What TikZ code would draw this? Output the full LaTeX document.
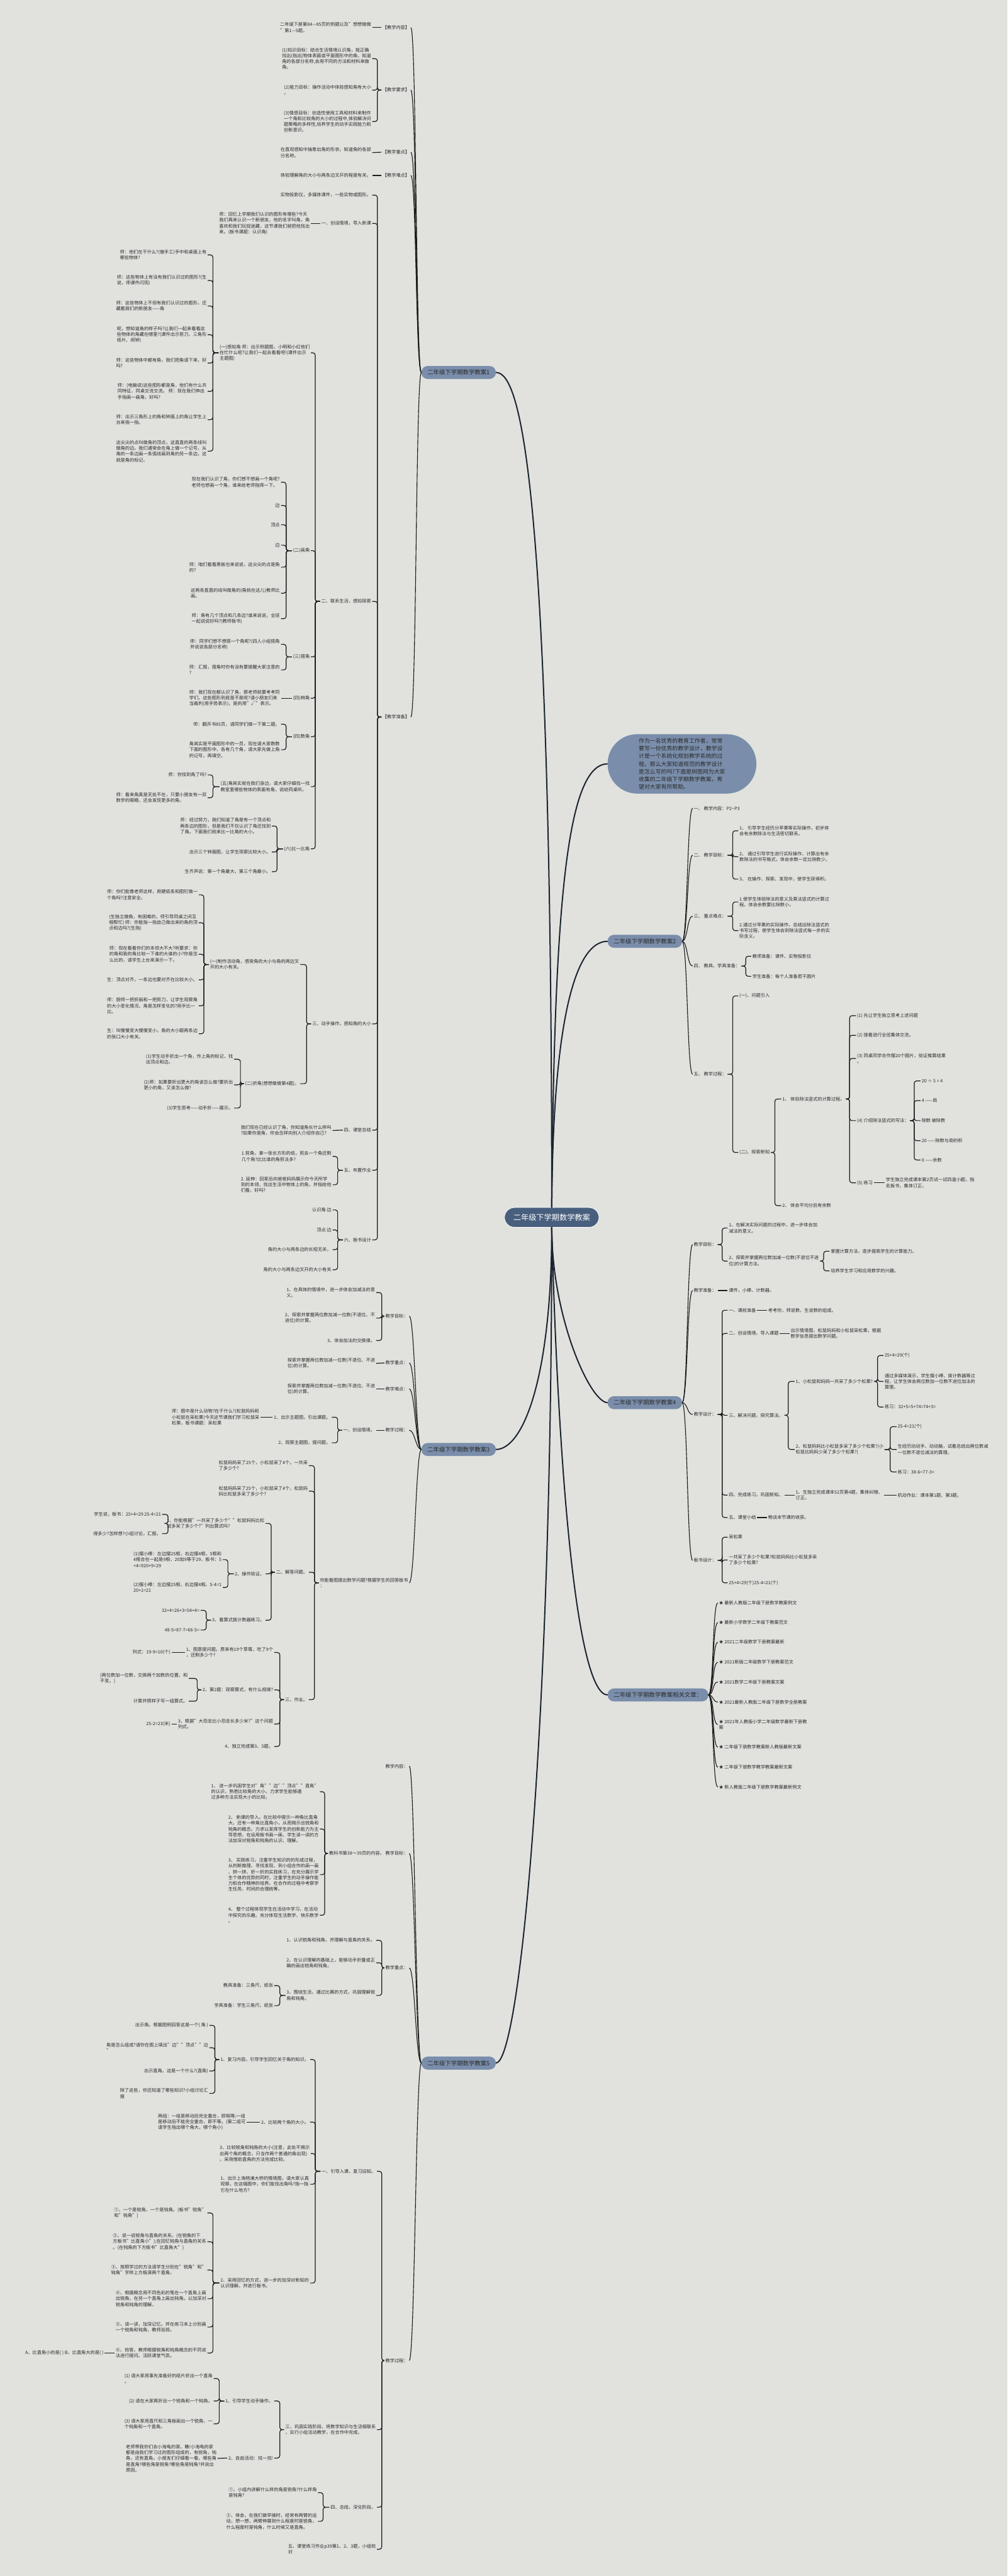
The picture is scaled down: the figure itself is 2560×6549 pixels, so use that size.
\documentclass[tikz,border=0pt]{standalone}
\usepackage{fontspec}
\setmainfont{Noto Sans CJK SC}
\definecolor{bg}{HTML}{E1E2DE}
\definecolor{rootfill}{HTML}{485F7E}
\definecolor{onefill}{HTML}{7A8EAB}
\definecolor{txt}{HTML}{2A2A2A}
\definecolor{ln}{HTML}{1C1C1C}
\definecolor{rootln}{HTML}{1B2430}
\newcommand\txtfont{\fontsize{5.75pt}{7.4pt}\selectfont}
\newcommand\onefont{\fontsize{7.5pt}{9pt}\selectfont}
\newcommand\rootfont{\fontsize{9.75pt}{11pt}\selectfont}
\newcommand\introfont{\fontsize{7.1pt}{9.8pt}\selectfont}
\newcommand\brL[3]{\foreach \ch in {#3}{\draw[br] (#1.west) -- (#2,0 |- #1.west) -- (#2,0 |- \ch.east) -- (\ch.east);}}
\newcommand\brR[3]{\foreach \ch in {#3}{\draw[br] (#1.east) -- (#2,0 |- #1.east) -- (#2,0 |- \ch.west) -- (\ch.west);}}
\newcommand\cvL[2]{\foreach \ch in {#2}{\draw[cv] (#1.west) .. controls +(-14,0) and +(14,0) .. (\ch.east);}}
\newcommand\cvR[2]{\foreach \ch in {#2}{\draw[cv] (#1.east) .. controls +(14,0) and +(-14,0) .. (\ch.west);}}
\newcommand\stL[2]{\draw[br] (#1.west) -- (#2.east);}
\newcommand\stR[2]{\draw[br] (#1.east) -- (#2.west);}
\begin{document}
\begin{tikzpicture}[x=0.5pt,y=-0.5pt,
  every node/.style={inner sep=0pt, outer sep=0pt},
  tx/.style={font=\txtfont, text=txt, align=left, inner xsep=1.5pt, inner ysep=1pt},
  L/.style={tx, anchor=east},
  R/.style={tx, anchor=west},
  br/.style={draw=ln, line width=0.95pt, rounded corners=3pt},
  cv/.style={draw=ln, line width=0.9pt},
  rc/.style={draw=rootln, line width=1.6pt},
  lone/.style={fill=onefill, rounded corners=8pt, minimum height=16.5pt, inner xsep=7.75pt, font=\onefont, text=txt},
  rootnode/.style={fill=rootfill, draw=white, line width=0.6pt, rounded corners=12.5pt, minimum height=25pt, minimum width=120pt, inner xsep=11pt, font=\rootfont, text=white},
  intro/.style={fill=onefill, rounded corners=37.5pt, minimum width=189pt, minimum height=75.5pt, font=\introfont, text=txt, align=left}
]
\path[use as bounding box, fill=bg] (0,0) rectangle (2560,6549);
% ---------- root and level 1 ----------
\node[rootnode] (root) at (1402,3095) {二年级下学期数学教案};
\node[lone, anchor=east] (A) at (1260,947) {二年级下学期数学教案1};
\node[intro] (I) at (1733,1942) {作为一名优秀的教育工作者，常常\\要写一份优秀的教学设计，教学设\\计是一个系统化规划教学系统的过\\程。那么大家知道规范的教学设计\\是怎么写的吗?下面是树图网为大家\\收集的二年级下学期数学教案，希\\望对大家有所帮助。};
\node[lone, anchor=west] (B) at (1544,2393) {二年级下学期数学教案2};
\node[lone, anchor=east] (C) at (1260,3685) {二年级下学期数学教案3};
\node[lone, anchor=west] (D) at (1544,3566) {二年级下学期数学教案4};
\node[lone, anchor=west] (E) at (1544,4309) {二年级下学期数学教案相关文章：};
\node[lone, anchor=east] (F) at (1260,5245) {二年级下学期数学教案5};
\draw[rc] (root.north) .. controls (1402,1100) and (1310,947) .. (A.east);
\draw[rc] (root.north) .. controls (1408,2300) and (1440,1942) .. (I.west);
\draw[rc] (root.north) .. controls (1405,2600) and (1460,2393) .. (B.west);
\draw[rc] (root.south) .. controls (1402,3500) and (1330,3685) .. (C.east);
\draw[rc] (root.south) .. controls (1402,3350) and (1500,3566) .. (D.west);
\draw[rc] (root.south) .. controls (1420,3800) and (1470,4309) .. (E.west);
\draw[rc] (root.south) .. controls (1402,4400) and (1320,5245) .. (F.east);
% ---------- 教案1 ----------
\node[L] (A1) at (1044,70) {【教学内容】};
\node[L] (A2) at (1044,229) {【教学要求】};
\node[L] (A3) at (1044,387) {【教学重点】};
\node[L] (A4) at (1044,446) {【教学难点】};
\node[L] (A5) at (1044,1823) {【教学准备】};
\cvL{A}{A1,A2,A3,A4,A5}
\node[L] (A1a) at (946,70) {二年级下册第84—85页的例题以及"想想做做\\"第1—5题。};
\stL{A1}{A1a}
\node[L] (A2a) at (946,149) {(1)知识目标：结合生活情境认识角，能正确\\找出(指出)物体表面或平面图形中的角，知道\\角的各部分名称,会用不同的方法和材料来做\\角。};
\node[L] (A2b) at (946,229) {(2)能力目标：操作活动中体验感知角有大小\\。};
\node[L] (A2c) at (946,309) {(3)情感目标：创造性使用工具和材料来制作\\一个角和比较角的大小的过程中,体验解决问\\题策略的多样性,培养学生的动手实践能力和\\创新意识。};
\brL{A2}{959}{A2a,A2b,A2c}
\node[L] (A3a) at (946,388) {在直观感知中抽象出角的形状，知道角的各部\\分名称。};
\stL{A3}{A3a}
\node[L] (A4a) at (946,446) {体验理解角的大小与两条边叉开的程度有关。};
\stL{A4}{A4a}
\node[L] (P1) at (946,496) {实物投影仪，多媒体课件，一些实物或图形。};
\node[L] (P2) at (946,568) {一、创设情境，导入新课};
\node[L] (P3) at (946,1529) {二、联系生活，感知探索};
\node[L] (P4) at (946,2603) {三、动手操作，感知角的大小};
\node[L] (P5) at (946,2873) {四、课堂总结};
\node[L] (P6) at (946,2975) {五、布置作业};
\node[L] (P7) at (946,3152) {六、板书设计};
\brL{A5}{959}{P1,P2,P3,P4,P5,P6,P7}
\node[L] (P2a) at (790,568) {师：回忆上学期我们认识的图形有哪些?今天\\我们再来认识一个新朋友，他的名字叫角，角\\喜欢和我们玩捉迷藏，这节课我们就把他找出\\来。(板书课题：认识角)};
\stL{P2}{P2a}
\node[L] (Q1) at (790,897) {(一)感知角 师：出示例题图，小明和小红他们\\在忙什么呢?让我们一起去看看吧!(课件出示\\主题图)};
\node[L] (Q2) at (790,1400) {(二)画角};
\node[L] (Q3) at (790,1670) {(三)搭角};
\node[L] (Q4) at (790,1775) {(四)辨角};
\node[L] (Q5) at (790,1873) {(四)数角};
\node[L] (Q6) at (790,2000) {(五)角其实就在我们身边，请大家仔细找一找\\教室里哪些物体的表面有角，说给同桌听。};
\node[L] (Q7) at (790,2158) {(六)比一比角};
\brL{P3}{801}{Q1,Q2,Q3,Q4,Q5,Q6,Q7}
\node[L] (Q1a) at (528,648) {师：他们在干什么?(做手工)手中和桌面上有\\哪些物体?};
\node[L] (Q1b) at (528,713) {师：这些物体上有没有我们认识过的图形?(生\\说，师课件闪现)};
\node[L] (Q1c) at (528,778) {师：这些物体上不但有我们认识过的图形，还\\藏着我们的新朋友——角};
\node[L] (Q1d) at (528,851) {呢，想知道角的样子吗?让我们一起来看看这\\些物体的角藏在哪里?(课件出示剪刀、三角形\\纸片、闹钟)};
\node[L] (Q1e) at (528,923) {师：这些物体中都有角，我们把角请下来，好\\吗?};
\node[L] (Q1f) at (528,995) {师：(电脑说)这些图形都是角，他们有什么共\\同特征，同桌交流交流。 师：现在我们伸出\\手指画一画角，好吗?};
\node[L] (Q1g) at (528,1067) {师：出示三角形上的角和钟面上的角让学生上\\台来指一指。};
\node[L] (Q1h) at (528,1147) {这尖尖的点叫做角的顶点，这直直的两条线叫\\做角的边。我们通常会在角上做一个记号，从\\角的一条边画一条弧线画到角的另一条边，这\\就是角的标记。};
\brL{Q1}{541}{Q1a,Q1b,Q1c,Q1d,Q1e,Q1f,Q1g,Q1h}
\node[L] (Q2a) at (714,1226) {现在我们认识了角，你们想不想画一个角呢?\\老师也想画一个角，谁来给老师指挥一下。};
\node[L] (Q2b) at (714,1285) {边};
\node[L] (Q2c) at (714,1334) {顶点};
\node[L] (Q2d) at (714,1386) {边};
\node[L] (Q2e) at (714,1442) {师：咱们看看黑板也来说说，这尖尖的点是角\\的?};
\node[L] (Q2f) at (714,1508) {这两条直直的线叫做角的(角就在这儿)教师比\\画。};
\node[L] (Q2g) at (714,1573) {师：角有几个顶点和几条边?谁来说说，全班\\一起说说好吗?(教师板书)};
\brL{Q2}{727}{Q2a,Q2b,Q2c,Q2d,Q2e,Q2f,Q2g}
\node[L] (Q3a) at (714,1638) {师：同学们想不想搭一个角呢?(四人小组搭角\\并说说各部分名称)};
\node[L] (Q3b) at (714,1703) {师：汇报，搭角时你有没有要提醒大家注意的\\?};
\brL{Q3}{727}{Q3a,Q3b}
\node[L] (Q4a) at (714,1775) {师：我们现在都认识了角，那老师就要考考同\\学们，这些图形到底是不是呢?请小朋友们来\\当裁判(用手势表示)，是的用"√"表示。};
\stL{Q4}{Q4a}
\node[L] (Q5a) at (714,1841) {师：翻开书85页，请同学们做一下第二题。};
\node[L] (Q5b) at (714,1906) {角其实是平面图形中的一员，现在请大家数数\\下面的图形中，各有几个角，请大家先做上角\\的记号，再填空。};
\brL{Q5}{727}{Q5a,Q5b}
\node[L] (Q6a) at (528,1970) {师：你找到角了吗?};
\node[L] (Q6b) at (528,2028) {师：看来角真是无处不在，只要小朋友有一双\\数学的眼睛，还会发现更多的角。};
\brL{Q6}{541}{Q6a,Q6b}
\node[L] (Q7a) at (691,2100) {师：经过努力，我们知道了角是有一个顶点和\\两条边的图形，但是我们不仅认识了角还找到\\了角。下面我们就来比一比角的大小。};
\node[L] (Q7b) at (691,2166) {出示三个钟面图，让学生观察比较大小。};
\node[L] (Q7c) at (691,2216) {生齐声说：第一个角最大，第三个角最小。};
\brL{Q7}{704}{Q7a,Q7b,Q7c}
\node[L] (R1) at (763,2452) {(一)制作活动角，感受角的大小与角的两边叉\\开的大小有关。};
\node[L] (R2) at (763,2755) {(二)折角(想想做做第4题)。};
\brL{P4}{779}{R1,R2}
\node[L] (R1a) at (505,2275) {师：你们能像老师这样，用硬纸条和图钉做一\\个角吗?注意安全。};
\node[L] (R1b) at (505,2346) {(生独立做角，有困难的，师引导同桌之间互\\相帮忙) 师：你能指一指自己做出来的角的顶\\点和边吗?(生指)};
\node[L] (R1c) at (505,2426) {师：现在看看你们的本领大不大?听要求：你\\的角和我的角比较一下谁的大谁的小?你是怎\\么比的，请学生上台来演示一下。};
\node[L] (R1d) at (505,2491) {生：顶点对齐，一条边也要对齐在比较大小。};
\node[L] (R1e) at (505,2557) {师：厨师一把折扇和一把剪刀，让学生观察角\\的大小变化情况，角是怎样变化的?用手比一\\比。};
\node[L] (R1f) at (505,2628) {生：叫慢慢变大慢慢变小，角的大小跟两条边\\的张口大小有关。};
\brL{R1}{518}{R1a,R1b,R1c,R1d,R1e,R1f}
\node[L] (R2a) at (595,2693) {(1)学生动手折出一个角，作上角的标记，找\\出顶点和边。};
\node[L] (R2b) at (595,2758) {(2)师：如果要折出更大的角该怎么做?要折出\\更小的角，又该怎么做?};
\node[L] (R2c) at (595,2817) {(3)学生思考——动手折——展示。};
\brL{R2}{611}{R2a,R2b,R2c}
\node[L] (P5a) at (845,2874) {我们现在已经认识了角，你知道角长什么样吗\\?如果你是角，你会怎样向别人介绍你自己?};
\stL{P5}{P5a}
\node[L] (P6a) at (845,2940) {1.剪角，拿一张长方形的纸，剪去一个角还剩\\几个角?比比谁的角剪法多?};
\node[L] (P6b) at (845,3012) {2. 延伸：回家后向爸爸妈妈展示你今天所学\\到的本领，找出生活中物体上的角，并指给他\\们看，好吗?};
\brL{P6}{858}{P6a,P6b}
\node[L] (P7a) at (845,3076) {认识角 边};
\node[L] (P7b) at (845,3127) {顶点 边};
\node[L] (P7c) at (845,3177) {角的大小与两条边的长短无关，};
\node[L] (P7d) at (845,3228) {角的大小与两条边叉开的大小有关};
\brL{P7}{858}{P7a,P7b,P7c,P7d}
% ---------- 教案3 ----------
\node[L] (C1) at (1040,3346) {教学目标：};
\node[L] (C2) at (1040,3465) {教学重点：};
\node[L] (C3) at (1040,3531) {教学难点：};
\node[L] (C4) at (1040,3636) {教学过程：};
\node[L] (C5) at (1040,4024) {你能看图提出数学问题?根据学生的回答板书\\：};
\cvL{C}{C1,C2,C3,C4,C5}
\node[L] (C1a) at (956,3286) {1、在具体的情境中，进一步体会加减法的意\\义。};
\node[L] (C1b) at (956,3351) {2、探索并掌握两位数加减一位数(不退位、不\\进位)的计算。};
\node[L] (C1c) at (956,3408) {3、体会加法的交换律。};
\brL{C1}{970}{C1a,C1b,C1c}
\node[L] (C2a) at (956,3466) {探索并掌握两位数加减一位数(不退位、不进\\位)的计算。};
\stL{C2}{C2a}
\node[L] (C3a) at (956,3531) {探索并掌握两位数加减一位数(不退位、不进\\位)的计算。};
\stL{C3}{C3a}
\node[L] (C4a) at (956,3636) {一、创设情境。};
\stL{C4}{C4a}
\node[L] (C4b) at (843,3603) {1、出示主题图，引出课题。};
\node[L] (C4c) at (843,3668) {2、观察主题图，提问题。};
\brL{C4a}{858}{C4b,C4c}
\node[L] (C4d) at (662,3603) {师：图中是什么动物?在干什么?(松鼠妈妈和\\小松鼠在采松果)今天这节课我们学习松鼠采\\松果，板书课题：采松果};
\stL{C4b}{C4d}
\node[L] (S1) at (785,3726) {松鼠妈妈采了25个，小松鼠采了4个。一共采\\了多少个?};
\node[L] (S2) at (785,3791) {松鼠妈妈采了25个，小松鼠采了4个。松鼠妈\\妈比松鼠多采了多少个?};
\node[L] (S3) at (785,3997) {二、解答问题。};
\node[L] (S4) at (785,4321) {三、作业。};
\brL{C5}{799}{S1,S2,S3,S4}
\node[L] (S3a) at (675,3873) {1、你能根据"一共采了多少个""松鼠妈妈比松\\鼠多采了多少个?"列出算式吗?};
\node[L] (S3b) at (675,4001) {2、操作验证。};
\node[L] (S3c) at (675,4119) {3、看算式拨计数器练习。};
\brL{S3}{689}{S3a,S3b,S3c}
\node[L] (S3a1) at (412,3850) {学生说，板书：25+4=29 25-4=21};
\node[L] (S3a2) at (412,3899) {得多少?怎样想?小组讨论，汇报。};
\brL{S3a}{427}{S3a1,S3a2}
\node[L] (S3b1) at (566,3965) {(1)摆小棒：左边摆25根，右边摆4根，5根和\\4根合在一起是9根，20加9等于29，板书：5\\+4=920+9=29};
\node[L] (S3b2) at (566,4036) {(2)摆小棒：左边摆25根，右边摆4根。5-4=1\\20+1=21};
\brL{S3b}{579}{S3b1,S3b2}
\node[L] (S3c1) at (510,4094) {32+4=26+3=54+4=};
\node[L] (S3c2) at (510,4144) {48-5=87-7=66-5=};
\brL{S3c}{524}{S3c1,S3c2}
\node[L] (S4a) at (697,4201) {1、图意提问题。原来有19个草莓，吃了9个\\，还剩多少个?};
\node[L] (S4b) at (697,4296) {2、第2题：观察算式，有什么规律?};
\node[L] (S4c) at (697,4383) {3、根据"大恐龙比小恐龙长多少米?"这个问题\\列式。};
\node[L] (S4d) at (697,4440) {4、独立完成第3、5题。};
\brL{S4}{711}{S4a,S4b,S4c,S4d}
\node[L] (S4a1) at (436,4201) {列式：19-9=10(个)};
\stL{S4a}{S4a1}
\node[L] (S4b1) at (480,4267) {(两位数加一位数，交换两个加数的位置，和\\不变。)};
\node[L] (S4b2) at (480,4325) {计算并照样子写一组算式。};
\brL{S4b}{501}{S4b1,S4b2}
\node[L] (S4c1) at (436,4383) {25-2=23(米)};
\stL{S4c}{S4c1}
% ---------- 教案5 ----------
\node[L] (F1) at (1040,4490) {教学内容：};
\node[L] (F2) at (1040,4712) {教科书第38～39页的内容。 教学目标：};
\node[L] (F3) at (1040,5003) {教学重点：};
\node[L] (F4) at (1040,6001) {教学过程：};
\cvL{F}{F1,F2,F3,F4}
\node[L] (F2a) at (813,4555) {1、 进一步巩固学生对"角""边""顶点""直角"\\的认识，熟悉比较角的大小。力求学生能够通\\过多种方法实现大小的比较。};
\node[L] (F2b) at (813,4650) {2、 新课的导入。在比较中提示一种角比直角\\大，还有一种角比直角小，从而揭示出锐角和\\钝角的概念。力求以发挥学生的创新能力为主\\导思想。在运用板书画一画，学生读一读的方\\法加深对锐角和钝角的认识、理解。};
\node[L] (F2c) at (813,4766) {3、 实践练习，注重学生知识的的形成过程，\\从判断推理、寻找发现、到小组合作的画一画\\、拼一拼、折一折的实践练习，在充分展示学\\生个体的优势的同时，注重学生的动手操作能\\力和合作精神的培养。在合作的过程中考察学\\生任务、时间的合理统筹。};
\node[L] (F2d) at (813,4869) {4、 整个过程体现学生在活动中学习，在活动\\中探究的乐趣。充分体现生活数学、快乐数学\\。};
\brL{F2}{825}{F2a,F2b,F2c,F2d}
\node[L] (F3a) at (956,4933) {1、认识锐角和钝角，并理解与直角的关系。};
\node[L] (F3b) at (956,4990) {2、在认识理解的基础上，能够动手折叠或正\\确的画出锐角和钝角。};
\node[L] (F3c) at (956,5073) {3、围绕生活，通过比赛的方式，巩固理解锐\\角和钝角。};
\brL{F3}{970}{F3a,F3b,F3c}
\node[L] (F3c1) at (697,5048) {教具准备：三角尺，纸张};
\node[L] (F3c2) at (697,5099) {学具准备：学生三角尺，纸张};
\brL{F3c}{711}{F3c1,F3c2}
\node[L] (G1) at (958,5520) {一、引导入课，复习旧知。};
\node[L] (G2) at (958,6177) {三、巩固实践阶段，将数学知识与生活相联系\\，实行小组活动教学，在合作中完成。};
\node[L] (G3) at (958,6374) {四、总结，深化阶段。};
\node[L] (G4) at (958,6481) {五、课堂练习作业p39第1、2、3题，小组校\\对};
\brL{F4}{970}{G1,G2,G3,G4}
\node[L] (G1a) at (788,5236) {1、复习内容。引导学生回忆关于角的知识。};
\node[L] (G1b) at (788,5395) {2、比较两个角的大小。};
\node[L] (G1c) at (790,5475) {3、比较锐角和钝角的大小(注意，此处不揭示\\出两个角的概念，只当作两个普通的角出现)\\。采用借助直角的方法完成比较。};
\node[L] (G1d) at (788,5553) {1、出示上海杨浦大桥的情境图，请大家认真\\观察，在这幅图中，你们能找出角吗?指一指\\它在什么地方?};
\node[L] (G1e) at (788,5804) {2、采用回忆的方式，进一步的加深对新知的\\认识理解。并进行板书。};
\brL{G1}{801}{G1a,G1b,G1c,G1d,G1e}
\node[L] (G1a1) at (532,5149) {出示角。根据图例回答这是一个( 角 )};
\node[L] (G1a2) at (532,5206) {角是怎么组成?请你在图上填出"边""顶点""边\\"};
\node[L] (G1a3) at (532,5265) {出示直角。这是一个什么?(直角)};
\node[L] (G1a4) at (532,5322) {除了这些，你还知道了哪些知识?小组讨论汇\\报};
\brL{G1a}{546}{G1a1,G1a2,G1a3,G1a4}
\node[L] (G1b1) at (627,5395) {两组：一组是移动后完全重合，即相等;一组\\是移动后不能完全重合，即不等。(第二组可\\请学生指出哪个角大，哪个角小)};
\stL{G1b}{G1b1}
\node[L] (G1e1) at (527,5626) {①、一个是锐角，一个是钝角。(板书"锐角"\\和"钝角")};
\node[L] (G1e2) at (527,5699) {②、说一说锐角与直角的关系。(在锐角的下\\方板书"比直角小");在回忆钝角与直角的关系\\。(在钝角的下方板书"比直角大")};
\node[L] (G1e3) at (527,5771) {③、按照学过的方法请学生分别在"锐角"和"\\钝角"字样上方板演两个直角。};
\node[L] (G1e4) at (527,5844) {④、根据概念用不同色彩的笔在一个直角上画\\出锐角，在另一个直角上画出钝角。以加深对\\锐角和钝角的理解。};
\node[L] (G1e5) at (527,5916) {⑤、读一读，加深记忆。并在练习本上分别画\\一个锐角和钝角，教师巡视。};
\node[L] (G1e6) at (527,5982) {⑥、抢答。教师根据锐角和钝角概念的不同说\\法进行提问。活跃课堂气氛。};
\brL{G1e}{541}{G1e1,G1e2,G1e3,G1e4,G1e5,G1e6}
\node[L] (G1e7) at (266,5982) {A、比直角小的是( ) B、比直角大的是( )};
\stL{G1e6}{G1e7}
\node[L] (G2a) at (697,6104) {1、引导学生动手操作。};
\node[L] (G2b) at (697,6249) {2、自由活动：找一找!};
\brL{G2}{711}{G2a,G2b}
\node[L] (G2a1) at (543,6047) {(1) 请大家用事先准备好的纸片折出一个直角\\。};
\node[L] (G2a2) at (543,6104) {(2) 请在大家再折出一个锐角和一个钝角。};
\node[L] (G2a3) at (543,6162) {(3) 请大家用直尺和三角板画出一个锐角、一\\个钝角和一个直角。};
\brL{G2a}{557}{G2a1,G2a2,G2a3}
\node[L] (G2b1) at (553,6250) {老师带我你们去小海龟的家。瞧!小海龟的家\\都是由我们学习过的图形组成的，有锐角，钝\\角，还有直角。小朋友们仔细看一看，哪些角\\是直角?哪些角是锐角?哪些角是钝角?并说出\\原因。};
\stL{G2b}{G2b1}
\node[L] (G3a) at (808,6337) {①、小组内讲解什么样的角是锐角?什么样角\\是钝角?};
\node[L] (G3b) at (808,6410) {②、体会，在我们做早操时，经常有两臂的运\\动，想一想，两臂伸展到什么程度时是锐角，\\什么程度时是钝角，什么时候又是直角。};
\brL{G3}{821}{G3a,G3b}
% ---------- 教案2 ----------
\node[R] (B1) at (1760,2055) {一、 教学内容：P2\textasciitilde P3};
\node[R] (B2) at (1760,2174) {二、 教学目标：};
\node[R] (B3) at (1760,2329) {三、 重点难点：};
\node[R] (B4) at (1760,2456) {四、 教具、学具准备：};
\node[R] (B5) at (1760,2731) {五、 教学过程：};
\cvR{B}{B1,B2,B3,B4,B5}
\node[R] (B2a) at (1876,2112) {1、 引导学生经历分苹果等实际操作，初步体\\会有余数除法与生活密切联系。};
\node[R] (B2b) at (1876,2178) {2、 通过引导学生进行实际操作，计算出有余\\数除法的书写格式，体会余数一定比除数少。};
\node[R] (B2c) at (1876,2235) {3、 在操作、探索、发现中，使学生获得积。};
\brR{B2}{1862}{B2a,B2b,B2c}
\node[R] (B3a) at (1876,2293) {1.使学生体验除法的意义及乘法竖式的计算过\\程。体会余数要比除数小。};
\node[R] (B3b) at (1876,2366) {2.通过分苹果的实际操作，总结出除法竖式的\\书写过程，使学生体会到除法竖式每一步的实\\际含义。};
\brR{B3}{1862}{B3a,B3b}
\node[R] (B4a) at (1909,2431) {教师准备：课件、实物投影仪};
\node[R] (B4b) at (1909,2482) {学生准备：每个人准备若干圆片};
\brR{B4}{1895}{B4a,B4b}
\node[R] (B5a) at (1876,2532) {(一)、问题引入};
\node[R] (B5b) at (1876,2930) {(二)、探索新知};
\brR{B5}{1862}{B5a,B5b}
\node[R] (B5c) at (1985,2794) {1、 体验除法竖式的计算过程。};
\node[R] (B5d) at (1985,3065) {2、 体会平均分后有余数};
\brR{B5b}{1969}{B5c,B5d}
\node[R] (T1) at (2175,2582) {(1) 先让学生独立思考上述问题};
\node[R] (T2) at (2175,2632) {(2) 接着进行全班集体交流。};
\node[R] (T3) at (2175,2691) {(3) 同桌同学合作摆20个圆片，验证推算结果\\。};
\node[R] (T4) at (2175,2849) {(4) 介绍除法竖式的写法：};
\node[R] (T5) at (2175,3007) {(5) 练习};
\brR{B5c}{2159}{T1,T2,T3,T4,T5}
\node[R] (T4a) at (2339,2748) {20 ÷ 5 = 4};
\node[R] (T4b) at (2339,2798) {4 ——商};
\node[R] (T4c) at (2339,2849) {除数 被除数};
\node[R] (T4d) at (2339,2900) {20 ——除数与商的积};
\node[R] (T4e) at (2339,2949) {0 ——余数};
\brR{T4}{2323}{T4a,T4b,T4c,T4d,T4e}
\node[R] (T5a) at (2248,3007) {学生独立完成课本第2页试一试四道小题，指\\名板书，集体订正。};
\stR{T5}{T5a}
% ---------- 教案4 ----------
\node[R] (D1) at (1760,3164) {教学目标：};
\node[R] (D2) at (1760,3281) {教学准备：};
\node[R] (D3) at (1760,3596) {教学设计：};
\node[R] (D4) at (1760,3967) {板书设计：};
\cvR{D}{D1,D2,D3,D4}
\node[R] (D1a) at (1849,3122) {1、在解决实际问题的过程中，进一步体会加\\减法的意义。};
\node[R] (D1b) at (1849,3206) {2、探索并掌握两位数加减一位数(不退位不进\\位)的计算方法。};
\brR{D1}{1835}{D1a,D1b}
\node[R] (D1b1) at (2108,3181) {掌握计算方法，逐步提高学生的计算能力。};
\node[R] (D1b2) at (2108,3231) {培养学生学习和应用数学的兴趣。};
\brR{D1b}{2093}{D1b1,D1b2}
\node[R] (D2a) at (1849,3281) {课件，小棒、计数器。};
\stR{D2}{D2a}
\node[R] (U1) at (1849,3331) {一、课前准备};
\node[R] (U2) at (1849,3390) {二、创设情境，导入课题};
\node[R] (U3) at (1849,3598) {三、解决问题，探究算法。};
\node[R] (U4) at (1849,3801) {四、完成练习，巩固新知。};
\node[R] (U5) at (1849,3858) {五、课堂小结};
\brR{D3}{1835}{U1,U2,U3,U4,U5}
\node[R] (U1a) at (1949,3331) {考考你，师说数，生说数的组成。};
\stR{U1}{U1a}
\node[R] (U2a) at (2006,3390) {出示情境图，松鼠妈妈和小松鼠采松果，根据\\数学信息提出数学问题。};
\stR{U2}{U2a}
\node[R] (U3a) at (2019,3512) {1、小松鼠和妈妈一共采了多少个松果?};
\node[R] (U3b) at (2019,3685) {2、松鼠妈妈比小松鼠多采了多少个松果?(小\\松鼠比妈妈少采了多少个松果?)};
\brR{U3}{2003}{U3a,U3b}
\node[R] (U3a1) at (2245,3446) {25+4=29(个)};
\node[R] (U3a2) at (2245,3512) {通过多媒体演示，学生摆小棒、拨计数器等过\\程，让学生体会两位数加一位数不进位加法的\\算理。};
\node[R] (U3a3) at (2245,3577) {练习：32+5=5+74=74+3=};
\brR{U3a}{2230}{U3a1,U3a2,U3a3}
\node[R] (U3b1) at (2278,3627) {25-4=21(个)};
\node[R] (U3b2) at (2278,3685) {生经历动动手、动动脑，试着总结出两位数减\\一位数不退位减法的算理。};
\node[R] (U3b3) at (2278,3742) {练习：38-6=77-3=};
\brR{U3b}{2262}{U3b1,U3b2,U3b3}
\node[R] (U4a) at (2019,3801) {1、生独立完成课本52页第4题，集体纠错、\\订正。};
\stR{U4}{U4a}
\node[R] (U4b) at (2278,3801) {机动作业：课本第1题、第3题。};
\stR{U4a}{U4b}
\node[R] (U5a) at (1949,3858) {畅谈本节课的收获。};
\stR{U5}{U5a}
\node[R] (D4a) at (1849,3908) {采松果};
\node[R] (D4b) at (1849,3966) {一共采了多少个松果?松鼠妈妈比小松鼠多采\\了多少个松果?};
\node[R] (D4c) at (1849,4024) {25+4=29(个)25-4=21(个)};
\brR{D4}{1835}{D4a,D4b,D4c}
% ---------- 相关文章 ----------
\node[R] (E1) at (1824,4075) {★ 最新人教版二年级下册数学教案例文};
\node[R] (E2) at (1824,4125) {★ 最新小学数学二年级下教案范文};
\node[R] (E3) at (1824,4175) {★ 2021二年级数学下册教案最新};
\node[R] (E4) at (1824,4226) {★ 2021新版二年级数学下册教案范文};
\node[R] (E5) at (1824,4276) {★ 2021数学二年级下册教案文案};
\node[R] (E6) at (1824,4327) {★ 2021最新人教版二年级下册数学全册教案};
\node[R] (E7) at (1824,4384) {★ 2021年人教版小学二年级数学最新下册教\\案};
\node[R] (E8) at (1824,4442) {★ 二年级下册数学教案新人教版最新文案};
\node[R] (E9) at (1824,4493) {★ 二年级下册数学教学教案最新文案};
\node[R] (E10) at (1824,4543) {★ 新人教版二年级下册数学教案最新例文};
\cvR{E}{E1,E2,E3,E4,E5,E6,E7,E8,E9,E10}
\end{tikzpicture}
\end{document}
